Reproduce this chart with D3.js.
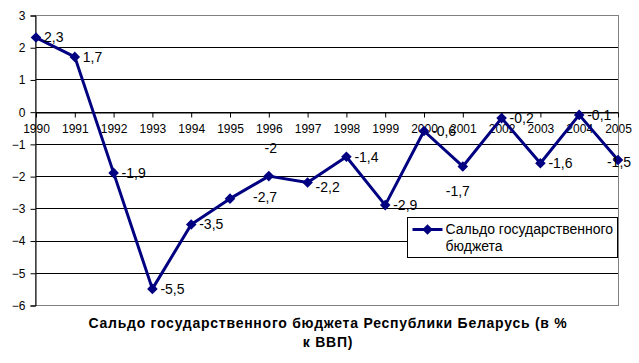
<!DOCTYPE html>
<html>
<head>
<meta charset="utf-8">
<script src="https://cdn.jsdelivr.net/npm/d3@7"></script>
<style>
  body { margin: 0; background: #fff; }
  text { font-family: "Liberation Sans", Arial, sans-serif; fill: #000; }
</style>
</head>
<body>
<svg id="svg1" width="639" height="363"></svg>
<script>
// data
var years = ['1990','1991','1992','1993','1994','1995','1996','1997','1998','1999','2000','2001','2002','2003','2004','2005'];
var saldo = [2.3, 1.7, -1.9, -5.5, -3.5, -2.7, -2, -2.2, -1.4, -2.9, -0.6, -1.7, -0.2, -1.6, -0.1, -1.5];
var yTicks = [3, 2, 1, 0, -1, -2, -3, -4, -5, -6];
// where each data label sits relative to its point
var labelPlace = ['r','r','r','r','r','rr','a','rb','r','r','r','b','r','r','r','c'];
var seriesName = 'Сальдо государственного бюджета';
var titleLines = ['Сальдо государственного бюджета Республики Беларусь (в %', 'к ВВП)'];

var svg = d3.select('#svg1');
var navy = '#000080';

var plotLeft = 35, plotRight = 618, plotTop = 15, plotBottom = 305;

var x = d3.scalePoint()
    .domain(years)
    .range([plotLeft + 1, plotRight]);

var y = d3.scaleLinear()
    .domain([-6, 3])
    .range([plotBottom, plotTop]);

// gridlines
svg.append('g')
    .selectAll('line')
    .data(yTicks.filter(function(d){ return d > -6 && d < 3; }))
    .enter()
    .append('line')
    .attr('x1', plotLeft).attr('x2', plotRight)
    .attr('y1', function(d){ return Math.round(y(d)) + 0.5; })
    .attr('y2', function(d){ return Math.round(y(d)) + 0.5; })
    .attr('stroke', '#000')
    .attr('stroke-width', 1);

// plot border (gray)
svg.append('rect')
    .attr('x', plotLeft + 0.5).attr('y', plotTop + 0.5)
    .attr('width', plotRight - plotLeft).attr('height', plotBottom - plotTop)
    .attr('fill', 'none')
    .attr('stroke', '#808080');

// y axis
var yAxis = d3.axisLeft(y)
    .tickValues(yTicks)
    .tickSize(5)
    .tickPadding(5)
    .tickFormat(d3.format('d'));

var gy = svg.append('g')
    .attr('transform', 'translate(' + (plotLeft + 0.5) + ',0.5)')
    .call(yAxis);
gy.select('.domain').attr('stroke', '#000');
gy.selectAll('line').attr('stroke', '#000');
gy.selectAll('text')
    .style('font-family', '"Liberation Sans", Arial, sans-serif')
    .style('font-size', '12px')
    .attr('fill', '#000');

// x axis on the zero line
var xAxis = d3.axisBottom(x)
    .tickSize(5)
    .tickSizeOuter(0)
    .tickPadding(7);

var gx = svg.append('g')
    .attr('transform', 'translate(0,' + (Math.round(y(0)) + 0.5) + ')')
    .call(xAxis);
gx.select('.domain').attr('stroke', '#000');
gx.selectAll('line').attr('stroke', '#000');
gx.selectAll('text')
    .style('font-family', '"Liberation Sans", Arial, sans-serif')
    .style('font-size', '12px')
    .attr('fill', '#000');

// the series line
var line = d3.line()
    .x(function(d, i){ return x(years[i]); })
    .y(function(d){ return y(d); });

svg.append('path')
    .datum(saldo)
    .attr('d', line)
    .attr('fill', 'none')
    .attr('stroke', navy)
    .attr('stroke-width', 3)
    .attr('stroke-linejoin', 'round');

var diamond = d3.symbol().type(d3.symbolSquare).size(56);

svg.selectAll('.marker')
    .data(saldo)
    .enter()
    .append('path')
    .attr('class', 'marker')
    .attr('d', diamond)
    .attr('fill', navy)
    .attr('transform', function(d, i){
        return 'translate(' + x(years[i]) + ',' + y(d) + ') rotate(45)';
    });

// data labels
var place = {
    r:  {dx: 8,  dy: 0,   anchor: 'start'},
    rb: {dx: 8,  dy: 5,   anchor: 'start'},
    rr: {dx: 23, dy: -2,  anchor: 'start'},
    a:  {dx: 2,  dy: -28, anchor: 'middle'},
    b:  {dx: -5, dy: 25,  anchor: 'middle'},
    c:  {dx: 1,  dy: 2,   anchor: 'middle'}
};

svg.selectAll('.dlabel')
    .data(saldo)
    .enter()
    .append('text')
    .attr('class', 'dlabel')
    .attr('x', function(d, i){ return x(years[i]) + place[labelPlace[i]].dx; })
    .attr('y', function(d, i){ return y(d) + place[labelPlace[i]].dy; })
    .attr('dy', '0.35em')
    .attr('text-anchor', function(d, i){ return place[labelPlace[i]].anchor; })
    .style('font-size', '14px')
    .text(function(d){ return String(d).replace('.', ','); });

// legend
var legend = svg.append('g').attr('transform', 'translate(407.5,217.5)');
legend.append('rect')
    .attr('width', 210).attr('height', 40)
    .attr('fill', '#fff')
    .attr('stroke', '#000');
legend.append('line')
    .attr('x1', 5).attr('x2', 35)
    .attr('y1', 12).attr('y2', 12)
    .attr('stroke', navy).attr('stroke-width', 3);
legend.append('path')
    .attr('d', diamond)
    .attr('fill', navy)
    .attr('transform', 'translate(20,12) rotate(45)');
var words = seriesName.split(' ');
legend.append('text')
    .attr('x', 38).attr('y', 12).attr('dy', '0.35em')
    .style('font-size', '14px')
    .text(words[0] + ' ' + words[1]);
legend.append('text')
    .attr('x', 38).attr('y', 29).attr('dy', '0.35em')
    .style('font-size', '14px')
    .text(words[2]);

// title
svg.selectAll('.title')
    .data(titleLines)
    .enter()
    .append('text')
    .attr('class', 'title')
    .attr('x', 328)
    .attr('y', function(d, i){ return 323 + i * 19; })
    .attr('dy', '0.35em')
    .attr('text-anchor', 'middle')
    .style('font-size', '14px')
    .style('font-weight', 'bold')
    .style('letter-spacing', '0.75px')
    .text(function(d){ return d; });
</script>
</body>
</html>
